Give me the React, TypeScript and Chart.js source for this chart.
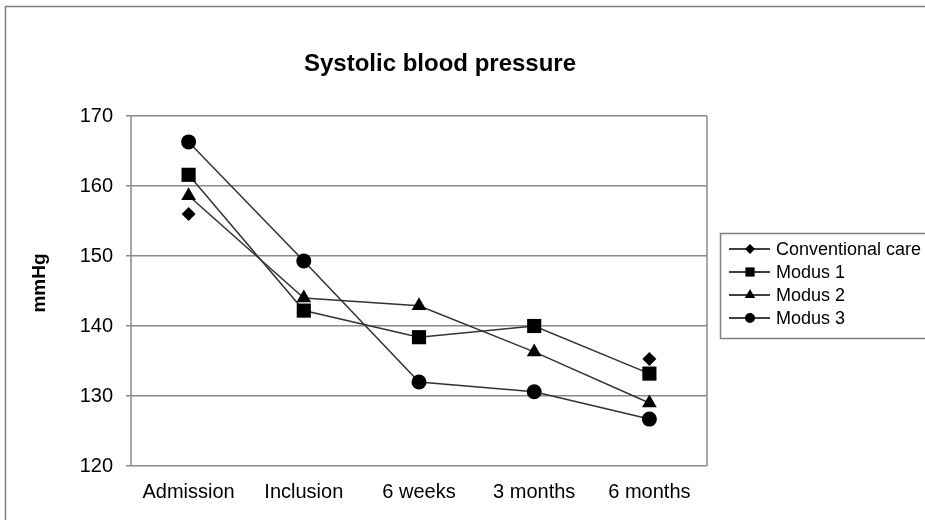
import React, { useEffect, useRef } from "react";
import { Chart, registerables } from "chart.js";

Chart.register(...registerables);

// ---- data ----
const categories = ["Admission", "Inclusion", "6 weeks", "3 months", "6 months"];
const seriesLabels = ["Conventional care", "Modus 1", "Modus 2", "Modus 3"];
const conventionalCare = [156.0, null, null, null, 135.3];
const modus1 = [161.6, 142.2, 138.4, 140.0, 133.2];
const modus2 = [158.6, 144.0, 142.9, 136.3, 129.0];
const modus3 = [166.3, 149.3, 132.0, 130.6, 126.7];
const yMin = 120;
const yMax = 170;
const yStep = 10;
const chartTitle = "Systolic blood pressure";
const yAxisTitle = "mmHg";

const FONT = "'Liberation Sans', Arial, sans-serif";
const GRID = "#8a8a8a";

type MarkerStyle = "rectRot" | "rect" | "triangle" | "circle";
const markerStyles: MarkerStyle[] = ["rectRot", "rect", "triangle", "circle"];
const markerRadii = [7, 10, 8.5, 7.5];
const legendRadii = [5, 6.5, 6, 5];

function drawMarker(ctx: CanvasRenderingContext2D, style: MarkerStyle, x: number, y: number, r: number) {
  ctx.beginPath();
  if (style === "circle") {
    ctx.arc(x, y, r, 0, Math.PI * 2);
  } else if (style === "rect") {
    const s = r * Math.SQRT1_2;
    ctx.rect(x - s, y - s, 2 * s, 2 * s);
  } else if (style === "rectRot") {
    ctx.moveTo(x - r, y);
    ctx.lineTo(x, y - r);
    ctx.lineTo(x + r, y);
    ctx.lineTo(x, y + r);
    ctx.closePath();
  } else {
    const h = r * Math.sqrt(3) / 2;
    ctx.moveTo(x, y - r);
    ctx.lineTo(x + h, y + r / 2);
    ctx.lineTo(x - h, y + r / 2);
    ctx.closePath();
  }
  ctx.fillStyle = "#000";
  ctx.fill();
}

const decorPlugin = {
  id: "decor",
  beforeDraw(chart: any) {
    const ctx = chart.ctx as CanvasRenderingContext2D;
    ctx.save();
    ctx.fillStyle = "#fff";
    ctx.fillRect(0, 0, chart.width, chart.height);
    // outer frame
    ctx.strokeStyle = "#808080";
    ctx.lineWidth = 1.5;
    ctx.strokeRect(5.5, 6.5, 2000, 2000);
    ctx.restore();
  },
  beforeDatasetsDraw(chart: any) {
    const ctx = chart.ctx as CanvasRenderingContext2D;
    const a = chart.chartArea;
    ctx.save();
    ctx.strokeStyle = GRID;
    ctx.lineWidth = 1.5;
    ctx.beginPath();
    ctx.moveTo(a.left, a.top);
    ctx.lineTo(a.left, a.bottom);
    ctx.moveTo(a.right, a.top);
    ctx.lineTo(a.right, a.bottom);
    ctx.stroke();
    ctx.restore();
  },
  afterDraw(chart: any) {
    const ctx = chart.ctx as CanvasRenderingContext2D;
    ctx.save();
    // title
    ctx.fillStyle = "#000";
    ctx.font = `bold 24px ${FONT}`;
    ctx.textAlign = "center";
    ctx.textBaseline = "alphabetic";
    ctx.fillText(chartTitle, 440, 71);
    // y axis title
    ctx.save();
    ctx.translate(40, 283);
    ctx.rotate(-Math.PI / 2);
    ctx.font = `bold 19px ${FONT}`;
    ctx.textAlign = "center";
    ctx.textBaseline = "middle";
    ctx.fillText(yAxisTitle, 0, 0);
    ctx.restore();
    // legend
    const boxLeft = 720.5;
    const boxTop = 233.5;
    const boxH = 105;
    ctx.strokeStyle = "#808080";
    ctx.lineWidth = 1.5;
    ctx.fillStyle = "#fff";
    ctx.fillRect(boxLeft, boxTop, 400, boxH);
    ctx.strokeRect(boxLeft, boxTop, 400, boxH);
    const rowY0 = 249;
    const rowGap = 23;
    chart.data.datasets.forEach((ds: any, i: number) => {
      const y = rowY0 + i * rowGap;
      ctx.strokeStyle = "#000";
      ctx.lineWidth = 1.3;
      ctx.beginPath();
      ctx.moveTo(729, y);
      ctx.lineTo(770, y);
      ctx.stroke();
      drawMarker(ctx, markerStyles[i], 750, y, legendRadii[i]);
      ctx.fillStyle = "#000";
      ctx.font = `18px ${FONT}`;
      ctx.textAlign = "left";
      ctx.textBaseline = "middle";
      ctx.fillText(ds.label, 776, y + 1);
    });
    ctx.restore();
  },
};

export default function App() {
  const ref = useRef<HTMLCanvasElement | null>(null);
  useEffect(() => {
    if (!ref.current) return;
    const seriesData = [conventionalCare, modus1, modus2, modus3];
    const chart = new Chart(ref.current, {
      type: "line",
      data: {
        labels: categories,
        datasets: seriesData.map((d, i) => ({
          label: seriesLabels[i],
          data: d as (number | null)[],
          borderColor: "#333333",
          borderWidth: 1.5,
          pointStyle: markerStyles[i],
          pointRadius: markerRadii[i],
          pointHoverRadius: markerRadii[i],
          pointBackgroundColor: "#000",
          pointBorderColor: "#000",
          pointBorderWidth: 0,
          spanGaps: false,
          tension: 0,
          fill: false,
        })),
      },
      options: {
        animation: false,
        responsive: false,
        maintainAspectRatio: false,
        events: [],
        layout: { padding: { left: 0, top: 116, right: 218, bottom: 0 } },
        plugins: {
          legend: { display: false },
          title: { display: false },
          tooltip: { enabled: false },
        },
        scales: {
          x: {
            type: "category",
            offset: true,
            grid: { display: false, drawTicks: false },
            border: { display: false },
            ticks: {
              color: "#000",
              font: { family: FONT, size: 20 },
              padding: 14,
              maxRotation: 0,
              autoSkip: false,
            },
            afterFit: (s: any) => {
              s.height = 54;
            },
          },
          y: {
            min: yMin,
            max: yMax,
            grid: { color: GRID, lineWidth: 1.5, drawTicks: true, tickLength: 5 },
            border: { display: false },
            ticks: {
              stepSize: yStep,
              color: "#000",
              font: { family: FONT, size: 20 },
              padding: 13,
            },
            afterFit: (s: any) => {
              s.width = 131;
            },
          },
        },
      },
      plugins: [decorPlugin],
    });
    return () => chart.destroy();
  }, []);
  return (
    <div style={{ position: "absolute", left: 0, top: 0, width: 925, height: 520 }}>
      <canvas ref={ref} width={925} height={520} />
    </div>
  );
}
